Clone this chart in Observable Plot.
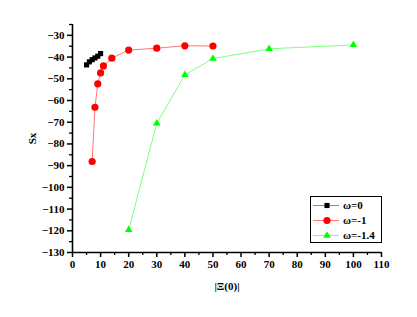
<!DOCTYPE html>
<html><head><meta charset="utf-8">
<script src="https://cdn.jsdelivr.net/npm/d3@7"></script>
<script src="https://cdn.jsdelivr.net/npm/@observablehq/plot@0.6"></script>
<style>
body{margin:0;background:#fff;}
#wrap{position:relative;width:417px;height:317px;overflow:hidden;}
#legend{position:absolute;left:310px;top:196px;}
</style></head><body><div id="wrap"></div>
<script>
const seriesNames = ["ω=0", "ω=-1", "ω=-1.4"];
const markerColors = ["#000000", "#ff0000", "#00ff00"];
const lineColors = ["#8c8c8c", "#ff7878", "#80ff80"];
const symbols = ["square", "circle", "triangle"];
const xs0 = [5, 6, 7, 8, 9, 10];
const ys0 = [-43.6, -42.2, -41.2, -40.4, -39.6, -38.4];
const xs1 = [7, 8, 9, 10, 11, 14, 20, 30, 40, 50];
const ys1 = [-88.1, -63.1, -52.3, -47.3, -44.1, -40.5, -36.8, -35.9, -34.8, -34.9];
const xs2 = [20, 30, 40, 50, 70, 100];
const ys2 = [-119.6, -70.5, -48.2, -40.7, -36.2, -34.4];
const xTicks = [0, 10, 20, 30, 40, 50, 60, 70, 80, 90, 100, 110];
const xMinor = [5, 15, 25, 35, 45, 55, 65, 75, 85, 95, 105];
const yTicks = [-130, -120, -110, -100, -90, -80, -70, -60, -50, -40, -30];
const yMinor = [-125, -115, -105, -95, -85, -75, -65, -55, -45, -35, -25];

const allX = [xs0, xs1, xs2], allY = [ys0, ys1, ys2];
const data = [];
allX.forEach((xs, s) => xs.forEach((x, i) => data.push({s, x, y: allY[s][i]})));
const rSizes = [2.9, 3.6, 2.8];

const marks = [
  Plot.axisY({ticks: yMinor, tickSize: 3, tickFormat: () => "", label: null, strokeWidth: 1.3}),
  Plot.axisX({ticks: xMinor, tickSize: 3, tickFormat: () => "", label: null, strokeWidth: 1.3}),
  Plot.axisY({ticks: yTicks, tickSize: 5, tickPadding: 3, strokeWidth: 1.5, fontWeight: "bold", label: "Sx", labelArrow: "none", labelAnchor: "center", labelOffset: 44}),
  Plot.axisX({ticks: xTicks, tickSize: 5, tickPadding: 3, strokeWidth: 1.5, fontWeight: "bold", label: "|Ξ(0)|", labelArrow: "none", labelAnchor: "center", labelOffset: 37}),
  Plot.ruleX([0], {strokeWidth: 1.6}),
  Plot.ruleY([-130], {strokeWidth: 1.6})
];
[0, 1, 2].forEach(s => {
  const d = data.filter(p => p.s === s);
  marks.push(Plot.line(d, {x: "x", y: "y", stroke: lineColors[s], strokeWidth: 1}));
});
[0, 1, 2].forEach(s => {
  const d = data.filter(p => p.s === s);
  marks.push(Plot.dot(d, {x: "x", y: "y", symbol: symbols[s], fill: markerColors[s], stroke: "none", r: rSizes[s]}));
});

const chart = Plot.plot({
  width: 417, height: 317,
  marginLeft: 72, marginRight: 36, marginTop: 24, marginBottom: 65,
  style: {fontFamily: "'Liberation Serif', serif", fontSize: "11px", color: "#000", background: "#fff"},
  x: {domain: [0, 110], axis: null},
  y: {domain: [-130, -25], axis: null},
  marks
});
const wrap = document.getElementById("wrap");
wrap.appendChild(chart);

// legend
const lg = d3.select(wrap).append("svg").attr("id", "legend").attr("width", 73).attr("height", 48);
lg.append("rect").attr("x", 0.5).attr("y", 0.5).attr("width", 71).attr("height", 46).attr("fill", "#fff").attr("stroke", "#000").attr("stroke-width", 1);
seriesNames.forEach((name, i) => {
  const cy = 9.5 + i * 15;
  lg.append("line").attr("x1", 3).attr("x2", 29).attr("y1", cy).attr("y2", cy).attr("stroke", lineColors[i]).attr("stroke-width", 1);
  const area = Math.PI * rSizes[i] * rSizes[i];
  const sym = {square: d3.symbolSquare, circle: d3.symbolCircle, triangle: d3.symbolTriangle}[symbols[i]];
  lg.append("path").attr("d", d3.symbol(sym, area)()).attr("transform", `translate(17,${cy})`).attr("fill", markerColors[i]);
  lg.append("text").attr("x", 33).attr("y", cy).attr("dy", "0.35em").attr("font-family", "'Liberation Serif', serif").attr("font-weight", "bold").attr("font-size", "11px").text(name);
});
</script></body></html>
